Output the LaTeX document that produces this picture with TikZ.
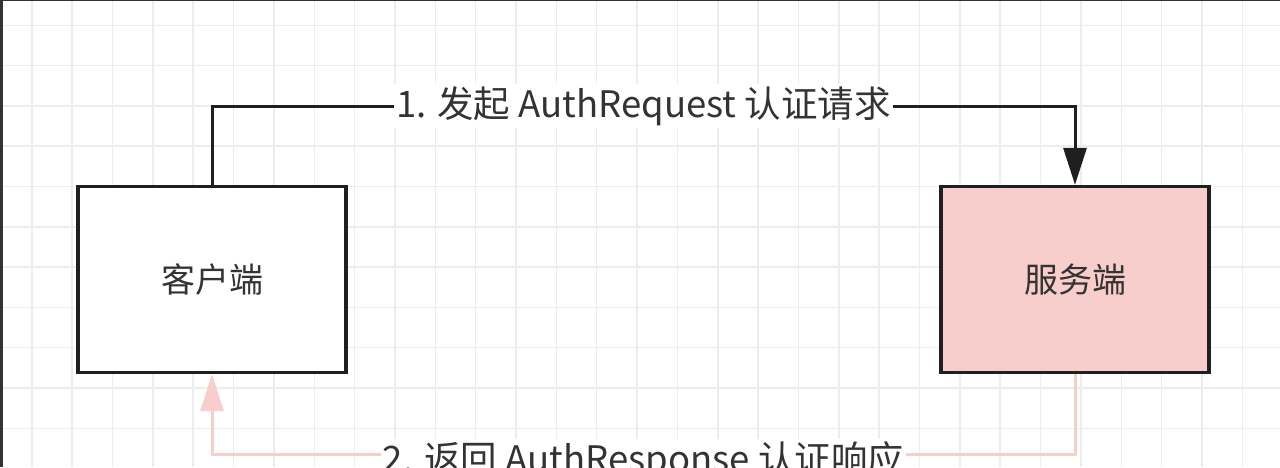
\documentclass[tikz,border=0pt]{standalone}
\usepackage{fontspec}
\setmainfont{Noto Sans CJK SC}
\usetikzlibrary{arrows.meta}
\definecolor{pinkfill}{HTML}{F8CECC}
\definecolor{textgray}{HTML}{333333}
\definecolor{gridgray}{HTML}{EDEDED}

\begin{document}
\begin{tikzpicture}[x=1pt,y=-1pt,
  main node/.style={rectangle,draw=black!88,line width=3.3pt,minimum width=268pt,minimum height=186pt,inner sep=0pt,font=\fontsize{34}{40}\selectfont,text=textgray},
  link/.style={line width=3pt,-{Triangle[width=23pt,length=37pt]}},
  link label/.style={fill=white,inner sep=2pt,font=\fontsize{36.5}{42}\selectfont,text=textgray}]

  \useasboundingbox (0,0) rectangle (1280,467);
  \clip (0,0) rectangle (1280,467);
  \fill[white] (0,0) rectangle (1280,467);

  % grid
  \foreach \i in {0,...,31}
    \draw[gridgray,line width=1.5pt] (31.8+40.35*\i,0) -- (31.8+40.35*\i,467);
  \foreach \j in {0,...,11}
    \draw[gridgray,line width=1.5pt] (0,25.3+40.3*\j) -- (1280,25.3+40.3*\j);
  \fill[black!80] (0,0) rectangle (3,467);
  \fill[black!80] (0,0) rectangle (1280,1.2);

  \node[main node,fill=white] (1) at (212,279.5) {\raisebox{-2pt}{客户端}};
  \node[main node,fill=pinkfill] (2) at (1075,279.5) {\raisebox{-2pt}{服务端}};
  \coordinate (3) at (1075,106);
  \coordinate (4) at (212,454);

  \draw[link,black!88] (1.north) |- node[link label,pos=0.75]{1. 发起 AuthRequest 认证请求} (3) -- (2.north);
  \draw[link,pinkfill] (2.south) |- node[link label,pos=0.75,yshift=-7pt]{2. 返回 AuthResponse 认证响应} (4) -- (1.south);
\end{tikzpicture}
\end{document}
